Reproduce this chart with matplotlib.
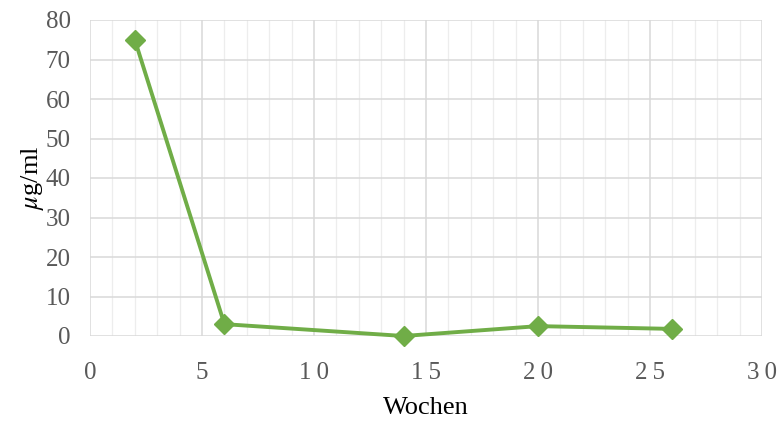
import numpy as np
import matplotlib.pyplot as plt
from matplotlib.ticker import MultipleLocator, FuncFormatter

# data
wochen = [2, 6, 14, 20, 26]
konz = [75, 3, 0, 2.5, 1.8]

plt.rcParams['font.family'] = ['Liberation Serif', 'DejaVu Serif']
plt.rcParams['mathtext.fontset'] = 'stix'

fig = plt.figure(figsize=(7.79, 4.21), dpi=100)
ax = fig.add_axes([90/779, 1 - 336/421, (762 - 90)/779, (336 - 20)/421])

ax.plot(wochen, konz, color='#70AD47', linewidth=2.8, marker='D',
        markersize=10, zorder=3, clip_on=False)

ax.set_xlim(0, 30)
ax.set_ylim(0, 80)
ax.xaxis.set_major_locator(MultipleLocator(5))
ax.xaxis.set_minor_locator(MultipleLocator(1))
ax.yaxis.set_major_locator(MultipleLocator(10))
# x labels in the original are letter-spaced
ax.xaxis.set_major_formatter(FuncFormatter(lambda v, p: '\u2009'.join(str(int(v)))))

ax.grid(which='major', color='#D9D9D9', linewidth=1.1)
ax.grid(which='minor', axis='x', color='#EDEDED', linewidth=0.9)
ax.set_axisbelow(True)
for s in ax.spines.values():
    s.set_visible(False)
ax.tick_params(which='both', length=0)
ax.tick_params(axis='y', labelsize=18, labelcolor='#595959', pad=14)
ax.tick_params(axis='x', labelsize=18, labelcolor='#595959', pad=19)

ax.set_xlabel('Wochen', fontsize=19, labelpad=9)
ax.set_ylabel(r'$\mu$g/ml', fontsize=19, labelpad=0)

fig.savefig('out.png', dpi=100)
